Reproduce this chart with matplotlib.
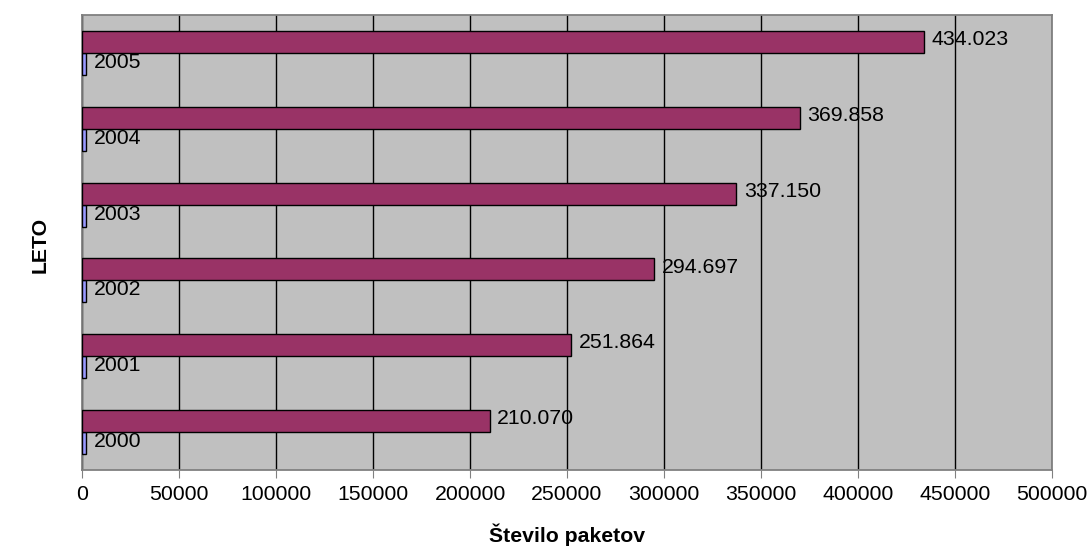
import matplotlib
matplotlib.use("Agg")
import matplotlib.pyplot as plt
import numpy as np

plt.rcParams['font.family'] = ['Liberation Sans', 'DejaVu Sans']

years = [2000, 2001, 2002, 2003, 2004, 2005]
packets = [210070, 251864, 294697, 337150, 369858, 434023]
xticks = [0, 50000, 100000, 150000, 200000, 250000, 300000, 350000, 400000, 450000, 500000]

fs = 15.3
fig = plt.figure(figsize=(10.9, 5.54), dpi=100)
ax = fig.add_axes([82/1090, 1-470/554, (1052-82)/1090, (470-15)/554])
ax.set_facecolor('#C0C0C0')

y = np.arange(len(years))
h = 0.29
ax.barh(y - h/2, years, height=h, color='#9999FF', edgecolor='black', linewidth=1, zorder=3)
ax.barh(y + h/2, packets, height=h, color='#993366', edgecolor='black', linewidth=1, zorder=3)

for yi, v in zip(y, years):
    ax.text(v + 4200, yi - h/2 + 0.02, str(v), va='center', ha='left', fontsize=fs, zorder=4)
for yi, v in zip(y, packets):
    ax.text(v + 4000, yi + h/2 + 0.03, f"{v:,}".replace(",", "."), va='center', ha='left', fontsize=fs, zorder=4)

ax.set_xlim(0, 500000)
ax.set_ylim(-0.5, len(years) - 0.5)
ax.set_xticks(xticks)
ax.set_xticklabels([str(t) for t in xticks], fontsize=fs)
ax.set_yticks([])
ax.xaxis.grid(True, color='black', linewidth=1, zorder=0)
ax.set_axisbelow(True)
ax.tick_params(axis='x', direction='out', length=6, color='#808080', pad=5)

for s in ['top', 'right', 'left', 'bottom']:
    ax.spines[s].set_color('#808080')
    ax.spines[s].set_linewidth(1.3)

ax.set_xlabel('Število paketov', fontsize=fs, fontweight='bold', labelpad=14)
fig.text(40/1090, 1 - 245/554, 'LETO', rotation=90, fontsize=fs, fontweight='bold', ha='center', va='center')

fig.savefig('out.png', dpi=100)
